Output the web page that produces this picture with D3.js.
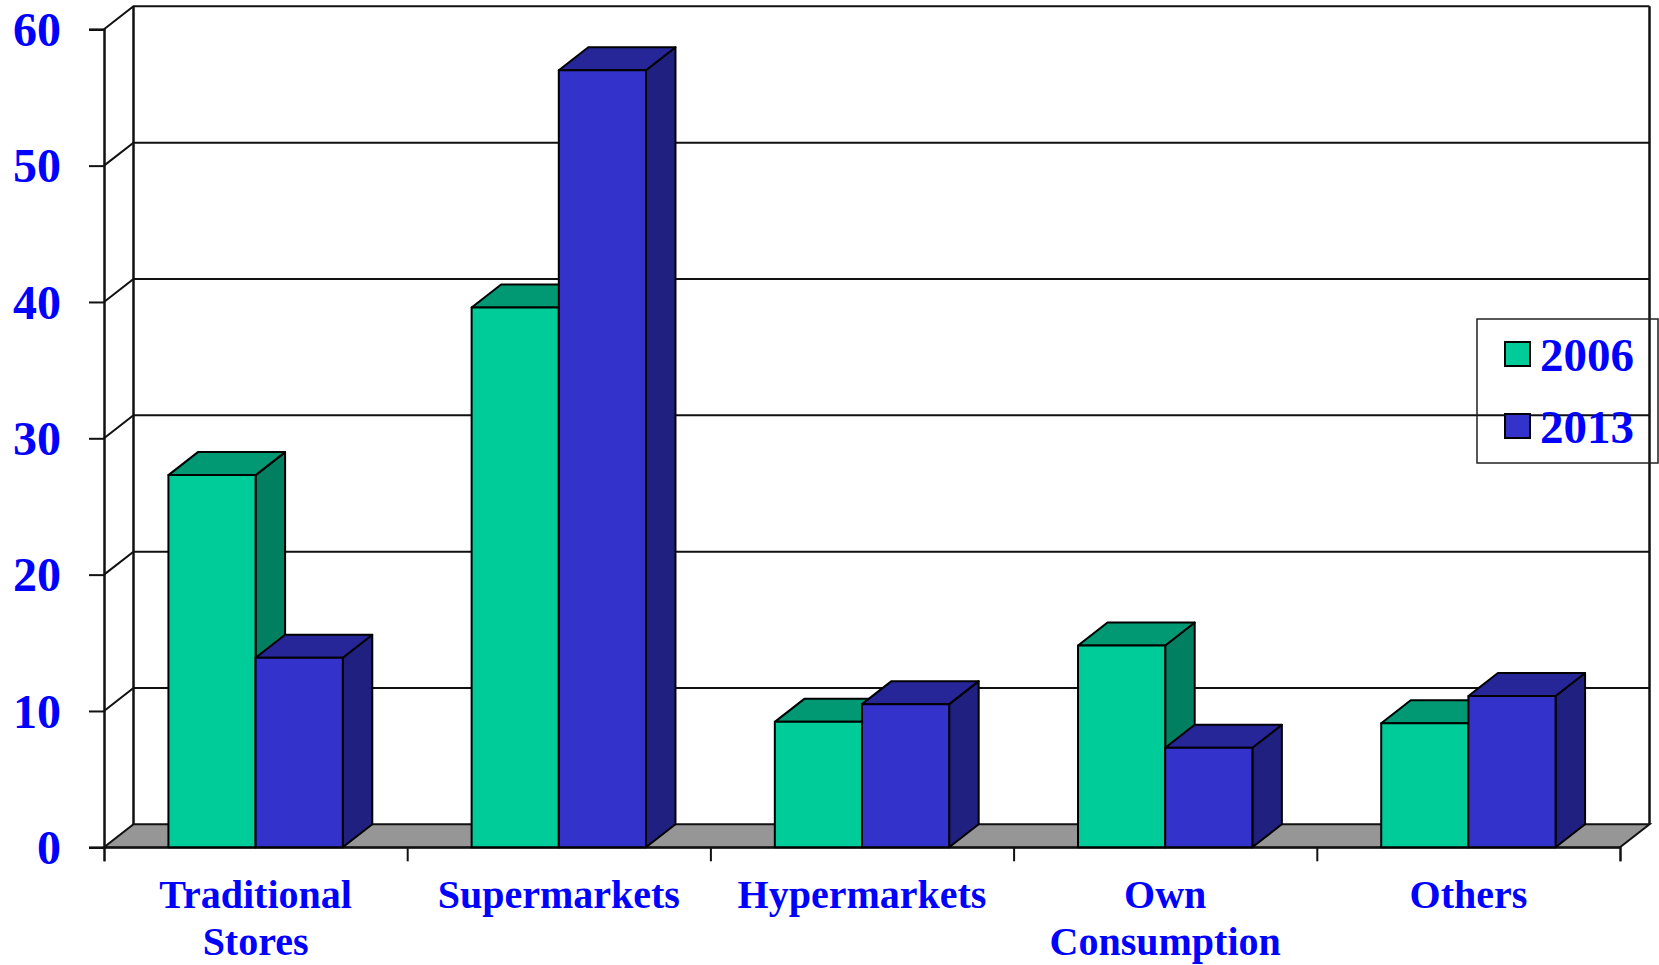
<!DOCTYPE html>
<html>
<head>
<meta charset="utf-8">
<script src="https://cdn.jsdelivr.net/npm/d3@7"></script>
<style>
  html, body { margin: 0; padding: 0; background: #fff; }
  svg { display: block; }
  text { font-family: "Liberation Serif", "Times New Roman", serif; font-weight: bold; fill: #0000FF; }
</style>
</head>
<body>
<svg id="chart" width="1659" height="965"></svg>
<script>
// Retail channel shares, 2006 vs 2013
const categories = [["Traditional", "Stores"], ["Supermarkets"], ["Hypermarkets"], ["Own", "Consumption"], ["Others"]];
const seriesNames = ["2006", "2013"];
const values2006 = [27.3, 39.6, 9.2, 14.8, 9.1];
const values2013 = [13.9, 57.0, 10.5, 7.3, 11.1];
const yTicks = [0, 10, 20, 30, 40, 50, 60];

const frontFill = ["#00CC99", "#3333CC"];
const topFill   = ["#009973", "#262699"];
const sideFill  = ["#008060", "#202080"];

const svg = d3.select("#chart");

// front plane of the plot and depth offset of the 3D box
const x0 = 104, x1 = 1620;
const dx = 29.5, dy = 23;

const y = d3.scaleLinear().domain([0, 60]).range([847.3, 29.3]);
const x = d3.scaleBand().domain(d3.range(categories.length)).range([x0, x1]).paddingInner(0).paddingOuter(0);
const inner = d3.scaleBand().domain(seriesNames).range([0, x.bandwidth()]).paddingInner(0).paddingOuter(0.739);

const line = d3.line();
const strokeCol = "#111";

// floor
svg.append("path")
  .attr("d", line([[x0, y(0)], [x1, y(0)], [x1 + dx, y(0) - dy], [x0 + dx, y(0) - dy]]) + "Z")
  .attr("fill", "#969696").attr("stroke", strokeCol).attr("stroke-width", 2);

// back wall gridlines and their diagonal links to the front axis
yTicks.filter(t => t > 0).forEach(t => {
  svg.append("path")
    .attr("d", line([[x0, y(t)], [x0 + dx, y(t) - dy], [x1 + dx, y(t) - dy]]))
    .attr("fill", "none").attr("stroke", strokeCol).attr("stroke-width", 2);
});
// back wall verticals
svg.append("line").attr("x1", x0 + dx).attr("x2", x0 + dx).attr("y1", y(60) - dy).attr("y2", y(0) - dy)
  .attr("stroke", strokeCol).attr("stroke-width", 2.5);
svg.append("line").attr("x1", x1 + dx).attr("x2", x1 + dx).attr("y1", y(60) - dy).attr("y2", y(0) - dy)
  .attr("stroke", strokeCol).attr("stroke-width", 2.5);

// front value axis
const yAxis = d3.axisLeft(y).tickValues(yTicks).tickSize(15).tickPadding(28).tickFormat(d3.format("d"));
const yg = svg.append("g").attr("transform", `translate(${x0},0)`).call(yAxis);
yg.select(".domain").attr("stroke", strokeCol).attr("stroke-width", 2.5);
yg.selectAll(".tick line").attr("stroke", strokeCol).attr("stroke-width", 2);
yg.selectAll(".tick text").style("font-size", "48px").attr("fill", "#0000FF")
  .style("font-family", '"Liberation Serif", "Times New Roman", serif').style("font-weight", "bold")
  .attr("dy", "0.34em");

// front category axis
const xAxis = d3.axisBottom(d3.scaleLinear().domain([0, categories.length]).range([x0, x1]))
  .tickValues(d3.range(categories.length + 1)).tickSize(14).tickFormat("");
const xg = svg.append("g").attr("transform", `translate(0,${y(0)})`).call(xAxis);
xg.select(".domain").attr("stroke", strokeCol).attr("stroke-width", 2);
xg.selectAll(".tick line").attr("stroke", strokeCol).attr("stroke-width", 2);

// category labels
categories.forEach((lines, i) => {
  const t = svg.append("text").attr("text-anchor", "middle").style("font-size", "40px");
  lines.forEach((s, j) => {
    t.append("tspan").attr("x", x(i) + x.bandwidth() / 2).attr("y", 908 + j * 47).text(s);
  });
});

// 3D bars
const series = [values2006, values2013];
categories.forEach((_, i) => {
  seriesNames.forEach((name, s) => {
    const v = series[s][i];
    const bx0 = x(i) + inner(name), bx1 = bx0 + inner.bandwidth();
    const top = y(v), base = y(0);
    const g = svg.append("g").attr("stroke", "#000").attr("stroke-width", 2).attr("stroke-linejoin", "round");
    g.append("path").attr("fill", sideFill[s])
      .attr("d", line([[bx1, top], [bx1 + dx, top - dy], [bx1 + dx, base - dy], [bx1, base]]) + "Z");
    g.append("path").attr("fill", topFill[s])
      .attr("d", line([[bx0, top], [bx0 + dx, top - dy], [bx1 + dx, top - dy], [bx1, top]]) + "Z");
    g.append("rect").attr("fill", frontFill[s])
      .attr("x", bx0).attr("y", top).attr("width", bx1 - bx0).attr("height", base - top);
  });
});

// legend
const lg = svg.append("g");
lg.append("rect").attr("x", 1477).attr("y", 319).attr("width", 181).attr("height", 144)
  .attr("fill", "none").attr("stroke", "#222").attr("stroke-width", 1.5);
seriesNames.forEach((name, s) => {
  const yy = 342 + s * 72;
  lg.append("rect").attr("x", 1505).attr("y", yy).attr("width", 25).attr("height", 24)
    .attr("fill", frontFill[s]).attr("stroke", "#000").attr("stroke-width", 2);
  lg.append("text").attr("x", 1540).attr("y", yy + 29).style("font-size", "47px").text(name);
});
</script>
</body>
</html>
